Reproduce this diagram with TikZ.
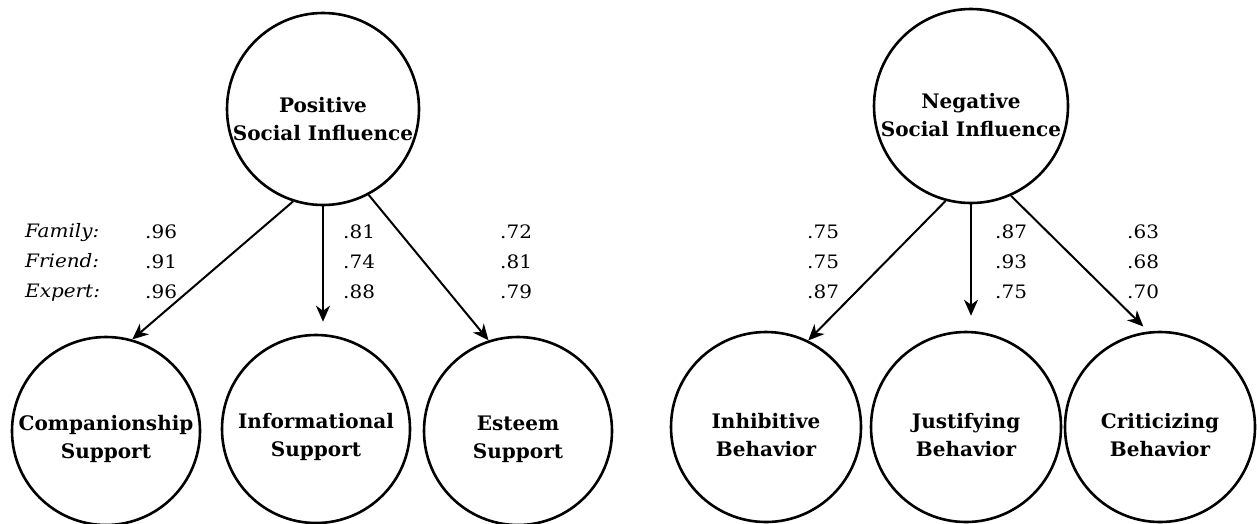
\documentclass[tikz,border=0pt]{standalone}
\usepackage{fontspec}
\setmainfont{DejaVu Serif}
\newfontfamily\nodefont{DejaVu Serif}
\newfontfamily\numfont{DejaVu Serif}[FakeStretch=1.08]
\usetikzlibrary{arrows.meta}
\begin{document}
\begin{tikzpicture}[x=1pt,y=-1pt,
  latent/.style={circle,draw,line width=2.6pt,minimum size=#1,inner sep=0pt},
  ctext/.style={font=\nodefont\bfseries\fontsize{20}{28}\selectfont,align=center,inner sep=0pt},
  nums/.style={font=\numfont\fontsize{18.5}{30}\selectfont,align=left,inner sep=0pt,anchor=west},
  arr/.style={line width=2pt,-{Stealth[length=16pt,width=14pt,inset=5pt]}}]
\useasboundingbox (0,0) rectangle (1257,523);
% positive side
\node[latent=192pt] (pos) at (323,109) {};
\node[ctext] (posT) at (323,119) {Positive\\Social Influence};
\node[latent=188pt] (comp) at (106,431) {};
\node[ctext] (compT) at (106,439) {Companionship\\Support};
\node[latent=188pt] (info) at (316,429) {};
\node[ctext] (infoT) at (316,437) {Informational\\Support};
\node[latent=188pt] (est) at (518,431) {};
\node[ctext] (estT) at (518,439) {Esteem\\Support};
\draw[arr] (pos.252) -- (comp.74);
\draw[arr,shorten >=12pt] (pos.south) -- (pos.south |- info.north);
\draw[arr] (pos.298) -- (est.108);
\node[nums] (lab) at (25,262) {\itshape Family:\\\itshape Friend:\\\itshape Expert:};
\node[nums] (p1) at (145,262) {.96\\.91\\.96};
\node[nums] (p2) at (343,262) {.81\\.74\\.88};
\node[nums] (p3) at (500,262) {.72\\.81\\.79};
% negative side
\node[latent=194pt] (neg) at (971,106) {};
\node[ctext] (negT) at (971,115) {Negative\\Social Influence};
\node[latent=190pt] (inh) at (766,427) {};
\node[ctext] (inhT) at (766,435) {Inhibitive\\Behavior};
\node[latent=190pt] (jus) at (966,427) {};
\node[ctext] (jusT) at (966,435) {Justifying\\Behavior};
\node[latent=190pt] (crit) at (1160,427) {};
\node[ctext] (critT) at (1160,435) {Criticizing\\Behavior};
\draw[arr] (neg.255) -- (inh.64);
\draw[arr,shorten >=15pt] (neg.south) -- (neg.south |- jus.north);
\draw[arr,shorten >=7pt] (neg.294) -- (crit.97);
\node[nums] (n1) at (807,262) {.75\\.75\\.87};
\node[nums] (n2) at (995,262) {.87\\.93\\.75};
\node[nums] (n3) at (1127,262) {.63\\.68\\.70};
\end{tikzpicture}
\end{document}
